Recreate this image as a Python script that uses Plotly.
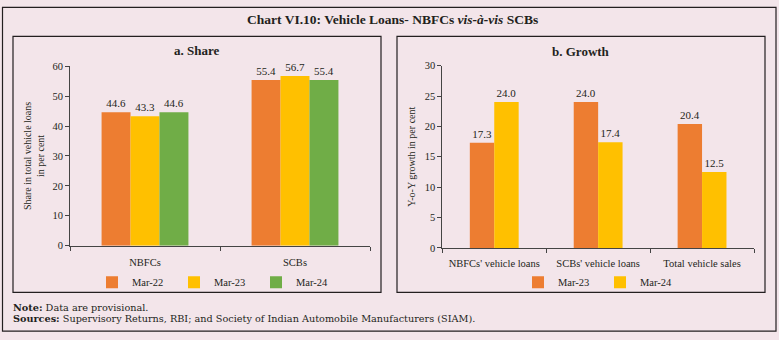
import plotly.graph_objects as go

# ---- data ----
share_categories = ["NBFCs", "SCBs"]
share_series = ["Mar-22", "Mar-23", "Mar-24"]
share_mar22 = [44.6, 55.4]
share_mar23 = [43.3, 56.7]
share_mar24 = [44.6, 55.4]

growth_categories = ["NBFCs' vehicle loans", "SCBs' vehicle loans", "Total vehicle sales"]
growth_series = ["Mar-23", "Mar-24"]
growth_mar23 = [17.3, 24.0, 20.4]
growth_mar24 = [24.0, 17.4, 12.5]

share_ticks = [0, 10, 20, 30, 40, 50, 60]
growth_ticks = [0, 5, 10, 15, 20, 25, 30]

# ---- style ----
W, H = 779, 340
BG = "#F3E5EA"
INK = "#231F20"
COL = {"Mar-22": "#ED7D31", "Mar-23": "#FFC000", "Mar-24": "#70AD47"}
COLB = {"Mar-23": "#ED7D31", "Mar-24": "#FFC000"}
FONT = "Liberation Serif"
NOTEFONT = "DejaVu Serif"


def px(x):
    return x / W


def py(y):
    return 1 - y / H


fig = go.Figure()

wa = 0.193
share_vals = [share_mar22, share_mar23, share_mar24]
for i, (name, vals) in enumerate(zip(share_series, share_vals)):
    fig.add_trace(go.Bar(
        x=share_categories, y=vals, name=name,
        marker=dict(color=COL[name], line=dict(width=0)),
        width=wa, offset=-1.5 * wa + i * wa,
        text=[f"{v:.1f}" for v in vals], textposition="outside",
        textfont=dict(family=FONT, size=11, color=INK),
        cliponaxis=False, xaxis="x", yaxis="y", legend="legend",
    ))

wb = 0.235
growth_vals = [growth_mar23, growth_mar24]
for i, (name, vals) in enumerate(zip(growth_series, growth_vals)):
    fig.add_trace(go.Bar(
        x=growth_categories, y=vals, name=name,
        marker=dict(color=COLB[name], line=dict(width=0)),
        width=wb, offset=-wb + i * wb,
        text=[f"{v:.1f}" for v in vals], textposition="outside",
        textfont=dict(family=FONT, size=11, color=INK),
        cliponaxis=False, xaxis="x2", yaxis="y2", legend="legend2",
    ))

axis_common = dict(
    showline=True, linecolor="#444", linewidth=1,
    ticks="outside", ticklen=4, tickcolor="#444",
    showgrid=False, zeroline=False,
    tickfont=dict(family=FONT, size=10.5, color=INK),
)

legend_common = dict(
    orientation="h", xanchor="left", yanchor="middle",
    bgcolor="rgba(0,0,0,0)", font=dict(family=FONT, size=10.5, color=INK),
    entrywidth=37, itemwidth=30,
)

fig.update_layout(
    width=W, height=H,
    margin=dict(l=0, r=0, t=0, b=0),
    paper_bgcolor=BG, plot_bgcolor=BG,
    barmode="overlay",
    font=dict(family=FONT, color=INK),
    xaxis=dict(domain=[px(70), px(370)], anchor="y", type="category",
               tickson="boundaries", ticklabelstandoff=7, **axis_common),
    yaxis=dict(domain=[py(248.7), py(63.3)], anchor="x", range=[0, 60],
               tickvals=share_ticks,
               title=dict(text="Share in total vehicle loans<br>in per cent",
                          font=dict(family=FONT, size=10, color=INK), standoff=5),
               **axis_common),
    xaxis2=dict(domain=[px(442.3), px(754)], anchor="y2", type="category",
                tickson="boundaries", ticklabelstandoff=6, **axis_common),
    yaxis2=dict(domain=[py(251), py(62.7)], anchor="x2", range=[0, 30],
                tickvals=growth_ticks,
                title=dict(text="Y-o-Y growth in per cent",
                           font=dict(family=FONT, size=10, color=INK), standoff=7),
                **axis_common),
    legend=dict(x=px(92), y=py(286.5), **legend_common),
    legend2=dict(x=px(518), y=py(286.5), **legend_common),
    showlegend=True,
)

# borders
shapes = [
    dict(type="rect", xref="paper", yref="paper", x0=px(2.5), x1=px(776), y0=py(337), y1=py(2.5),
         line=dict(color=INK, width=1.2), fillcolor="rgba(0,0,0,0)", layer="below"),
    dict(type="rect", xref="paper", yref="paper", x0=px(13), x1=px(381), y0=py(297), y1=py(32.5),
         line=dict(color=INK, width=1.2), fillcolor="rgba(0,0,0,0)", layer="below"),
    dict(type="rect", xref="paper", yref="paper", x0=px(397), x1=px(765), y0=py(297), y1=py(32.5),
         line=dict(color=INK, width=1.2), fillcolor="rgba(0,0,0,0)", layer="below"),
]
fig.update_layout(shapes=shapes)

annotations = [
    dict(text="<b>Chart VI.10: Vehicle Loans- NBFCs <i>vis-à-vis</i> SCBs</b>",
         x=px(392), y=py(15), xref="paper", yref="paper", showarrow=False,
         xanchor="center", yanchor="middle", font=dict(family=FONT, size=13.5, color=INK)),
    dict(text="<b>a. Share</b>", x=px(197), y=py(47), xref="paper", yref="paper",
         showarrow=False, xanchor="center", yanchor="middle",
         font=dict(family=FONT, size=13, color=INK)),
    dict(text="<b>b. Growth</b>", x=px(581), y=py(48), xref="paper", yref="paper",
         showarrow=False, xanchor="center", yanchor="middle",
         font=dict(family=FONT, size=13, color=INK)),
    dict(text="<b>Note:</b> Data are provisional.", x=px(11), y=py(312.5), xref="paper", yref="paper",
         showarrow=False, xanchor="left", yanchor="middle",
         font=dict(family=NOTEFONT, size=9.7, color=INK)),
    dict(text="<b>Sources:</b> Supervisory Returns, RBI; and Society of Indian Automobile Manufacturers (SIAM).",
         x=px(11), y=py(324), xref="paper", yref="paper",
         showarrow=False, xanchor="left", yanchor="middle",
         font=dict(family=NOTEFONT, size=9.7, color=INK)),
]
fig.update_layout(annotations=annotations)

fig.write_html("out.html")
